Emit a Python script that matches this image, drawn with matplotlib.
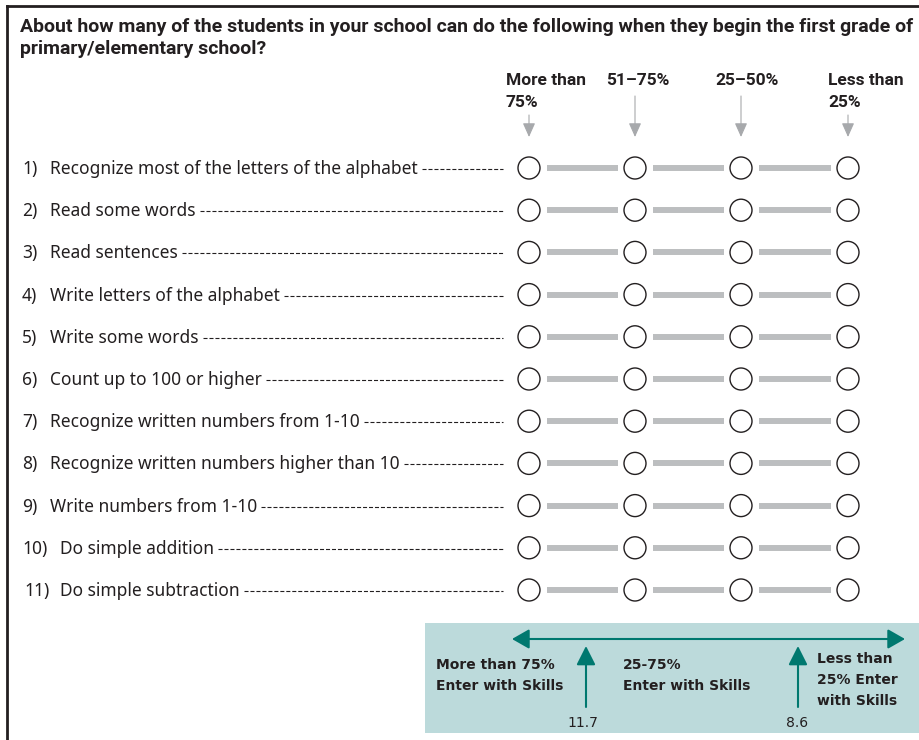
import matplotlib
matplotlib.use("Agg")
import matplotlib.pyplot as plt
from matplotlib.patches import Circle, Rectangle

plt.rcParams['lines.scale_dashes'] = False

# 问卷内容
title_lines = ["About how many of the students in your school can do the following when they begin the first grade of",
               "primary/elementary school?"]
item_numbers = ["1)", "2)", "3)", "4)", "5)", "6)", "7)", "8)", "9)", "10)", "11)"]
items = ["Recognize most of the letters of the alphabet",
         "Read some words",
         "Read sentences",
         "Write letters of the alphabet",
         "Write some words",
         "Count up to 100 or higher",
         "Recognize written numbers from 1-10",
         "Recognize written numbers higher than 10",
         "Write numbers from 1-10",
         "Do simple addition",
         "Do simple subtraction"]
columns = ["More than\n75%", "51\u201375%", "25\u201350%", "Less than\n25%"]

# 量表说明
scale_labels = ["More than 75%\nEnter with Skills", "25-75%\nEnter with Skills", "Less than\n25% Enter\nwith Skills"]
cut_points = [11.7, 8.6]

W, H = 919, 740
fig = plt.figure(figsize=(W / 100, H / 100), dpi=100)
ax = fig.add_axes([0, 0, 1, 1])
ax.set_xlim(0, W)
ax.set_ylim(H, 0)
ax.axis('off')

TITLE_FONT = ['Roboto', 'DejaVu Sans']
ROW_FONT = ['Noto Sans', 'DejaVu Sans']
ink = '#231f20'


def lines_at(x, y0, s, step, **kw):
    # 多行文字逐行按基线放置
    for n, line in enumerate(s.split('\n')):
        ax.text(x, y0 + step * n, line, va='baseline', color=ink, **kw)


# 外框
ax.plot([7, 7], [6, H], color=ink, lw=2)
ax.plot([7, W], [6, 6], color=ink, lw=2)

# 标题
lines_at(20, 32, '\n'.join(title_lines), 22, fontsize=14, fontweight='bold', family=TITLE_FONT)

# 列标题和灰色箭头
col_x = [529, 635, 741, 848]
head_x = [506, 606, 715, 828]
for j, c in enumerate(columns):
    lines_at(head_x[j], 85, c, 22, fontsize=12.5, fontweight='bold', family=TITLE_FONT)
    top = 115 if '\n' in c else 96
    ax.annotate('', xy=(col_x[j], 137), xytext=(col_x[j], top),
                arrowprops=dict(arrowstyle='-|>,head_length=0.85,head_width=0.38', color='#a7a9ac',
                                lw=0.8, shrinkA=0, shrinkB=0))

# 题目行
row_y = [168 + 42.2 * i for i in range(len(items))]
fig.canvas.draw()
renderer = fig.canvas.get_renderer()
inv = ax.transData.inverted()
for i, (num, lab) in enumerate(zip(item_numbers, items)):
    y = row_y[i]
    nx = 24 if i == 10 else 22
    lx = 50 if i < 9 else 60
    ax.text(nx, y + 6, num, fontsize=12.5, family=ROW_FONT, va='baseline', color=ink)
    t = ax.text(lx, y + 6, lab, fontsize=12.5, family=ROW_FONT, va='baseline', color=ink)
    bb = t.get_window_extent(renderer)
    x_end = inv.transform((bb.x1, bb.y0))[0]
    ax.plot([x_end + 4, 503], [y + 1, y + 1], color=ink, lw=0.8, linestyle=(0, (2.9, 1.4)))
    for j in range(len(columns)):
        ax.add_patch(Circle((col_x[j], y), 11, facecolor='white', edgecolor=ink, lw=1.0))
        if j < len(columns) - 1:
            ax.plot([col_x[j] + 18, col_x[j + 1] - 17], [y, y], color='#bcbec0', lw=4.3, solid_capstyle='butt')

# 底部说明框
ax.add_patch(Rectangle((425, 623), W - 425, 110, facecolor='#bcdadb', edgecolor='none'))
teal = '#00786f'
ax.annotate('', xy=(512, 639), xytext=(905, 639),
            arrowprops=dict(arrowstyle='<|-|>,head_length=1.05,head_width=0.6', color=teal, lw=1.5,
                            shrinkA=0, shrinkB=0))
arrow_x = [586, 798]
for k, v in enumerate(cut_points):
    ax.annotate('', xy=(arrow_x[k], 646), xytext=(arrow_x[k], 707),
                arrowprops=dict(arrowstyle='-|>,head_length=1.15,head_width=0.58', color=teal, lw=1.5,
                                shrinkA=0, shrinkB=0))
    ax.text(arrow_x[k] - 3 + (2 if k else 0), 727, f'{v}', fontsize=10, ha='center', va='baseline', color=ink)

label_x = [436, 623, 817]
label_y = [669, 669, 663]
for k, s in enumerate(scale_labels):
    lines_at(label_x[k], label_y[k], s, 21, fontsize=10, fontweight='bold')

fig.savefig('out.png', dpi=100)
